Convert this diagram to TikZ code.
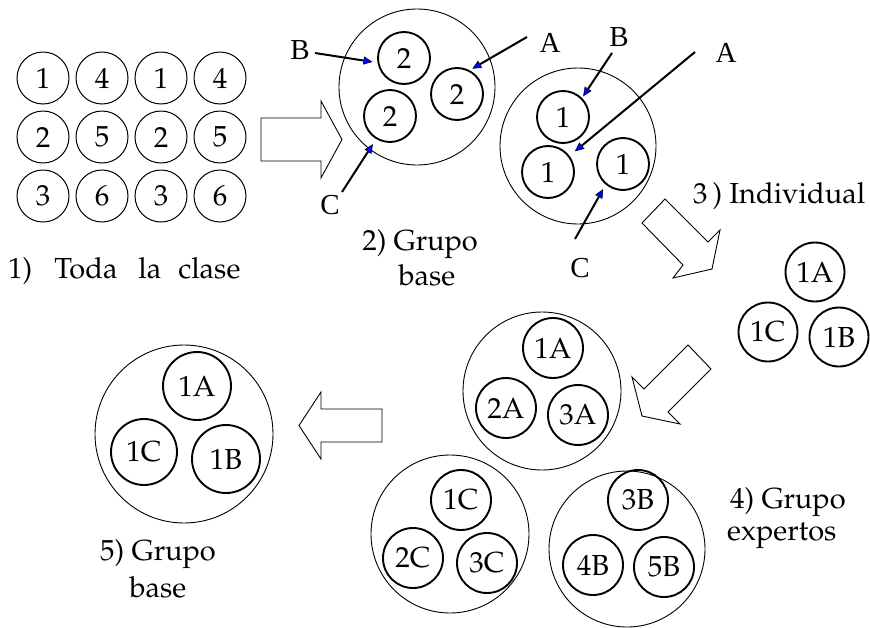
\documentclass[tikz,border=0pt]{standalone}
\usepackage[T1]{fontenc}
\usepackage{fontspec}
\newfontfamily\labelfont{Liberation Serif}
\newcommand\palfont{\fontencoding{T1}\fontfamily{ppl}\selectfont}
\usetikzlibrary{arrows.meta}

\begin{document}
\begin{tikzpicture}[x=1pt,y=-1pt,
  every node/.style={font=\palfont\fontsize{29}{33}\selectfont},
  seat/.style={circle,draw,line width=1pt,inner sep=0pt,minimum size=52pt},
  member/.style={circle,draw,line width=1.9pt,inner sep=0pt,minimum size=#1},
  member/.default=52pt,
  team/.style={circle,draw,line width=0.9pt,inner sep=0pt,minimum size=#1},
  team/.default=156pt,
  lbl/.style={font=\labelfont\fontsize{29}{33}\selectfont,inner sep=1pt},
  caption/.style={anchor=base,inner sep=0pt},
  pointer/.style={line width=2pt,
    -{Triangle[length=9pt,width=8pt,fill=blue,line width=0.5pt]}},
  bigarrow/.style={draw,line width=0.9pt,line join=miter,fill=white}
]
\useasboundingbox (0,0) rectangle (870,627);

% 1) the whole class: a 4x3 grid of numbered seats
\foreach \col/\x/\a/\b/\c in {1/43/1/2/3, 2/102/4/5/6, 3/161/1/2/3, 4/220/4/5/6}{
  \node[seat] (s\col a) at (\x,78)  {\a};
  \node[seat] (s\col b) at (\x,137) {\b};
  \node[seat] (s\col c) at (\x,196) {\c};
}
\node[anchor=base west,inner sep=0pt] (cap1) at (8,278)
  {1)\hspace{22pt}Toda\hspace{21pt}la\hspace{17pt}clase};

% arrow into the base groups
\draw[bigarrow] (261,118) -- (321,118) -- (321,101) -- (342,139.5)
  -- (321,178) -- (321,161) -- (261,161) -- cycle;

% 2) base group of number 2
\node[team] (g2) at (417,87) {};
\node[member] (g2b) at (404,58) {2};
\node[member] (g2a) at (457,94) {2};
\node[member] (g2c) at (390,116) {2};
\node[lbl] (B1) at (300,50) {B};
\node[lbl] (A1) at (550,43) {A};
\node[lbl] (C1) at (330,205) {C};
\coordinate (sB1) at (315,53);
\coordinate (sA1) at (527,37);
\coordinate (sC1) at (342,192);
\draw[pointer,shorten >=5pt] (sB1) -- (g2b.190);
\draw[pointer,shorten >=3pt] (sA1) -- (g2a.62);
\draw[pointer,shorten >=6pt] (sC1) -- (g2c.239);
\node[caption] (cap2a) at (420,250) {2) Grupo};
\node[caption] (cap2b) at (427,285) {base};

% base group of number 1
\node[team] (g1) at (578,146) {};
\node[member] (g1b) at (563,117) {1};
\node[member] (g1a) at (548,172) {1};
\node[member] (g1c) at (623,164) {1};
\node[lbl] (B2) at (619,37) {B};
\node[lbl] (A2) at (726,53) {A};
\node[lbl] (C2) at (580,268) {C};
\coordinate (sB2) at (612,53);
\coordinate (sA2) at (695,52);
\coordinate (sC2) at (575,239);
\draw[pointer,shorten >=2pt] (sB2) -- (g1b.45);
\draw[pointer,shorten >=7pt] (sA2) -- (g1a.37);
\draw[pointer,shorten >=5pt] (sC2) -- (g1c.230);

% 3) individual work
\node[anchor=base west,inner sep=0pt] (cap3) at (693,203) {3\,) Individual};
\draw[bigarrow] (665,199) -- (708,242) -- (720,230) -- (712,269)
  -- (673,278) -- (683,265) -- (642,223) -- cycle;
\node[member=59pt] (i1A) at (815,272) {1A};
\node[member=59pt] (i1C) at (768,332) {1C};
\node[member=59pt] (i1B) at (839,337) {1B};

% arrow into the expert groups
\draw[bigarrow] (688,345) -- (711,369) -- (668,412) -- (680,424)
  -- (642,416) -- (632,377) -- (644,389) -- cycle;

% 4) expert groups
\node[team=158pt] (eA) at (542,391) {};
\node[member=60pt] (eA1) at (553,348) {1A};
\node[member=60pt] (eA2) at (506,408) {2A};
\node[member=60pt] (eA3) at (578,415) {3A};

\node[team=158pt] (eC) at (450,534) {};
\node[member=60pt] (eC1) at (461,500) {1C};
\node[member=60pt] (eC2) at (413,558) {2C};
\node[member=60pt] (eC3) at (487,563) {3C};

\node[team=156pt] (eB) at (627,549) {};
\node[member=60pt] (eB3) at (638,500) {3B};
\node[member=60pt] (eB4) at (593,565) {4B};
\node[member=60pt] (eB5) at (664,567) {5B};

\node[anchor=base west,inner sep=0pt] (cap4a) at (730,508) {4) Grupo};
\node[anchor=base west,inner sep=0pt] (cap4b) at (727,540) {expertos};

% back to the base group
\draw[bigarrow] (382,409) -- (321,409) -- (321,392) -- (299,425.5)
  -- (321,459) -- (321,442) -- (382,442) -- cycle;

% 5) base group again
\node[team=178pt] (b5) at (184,434) {};
\node[member=68pt] (b5A) at (197,386) {1A};
\node[member=66pt] (b5C) at (144,452) {1C};
\node[member=68pt] (b5B) at (226,459) {1B};
\node[caption] (cap5a) at (158,560) {5) Grupo};
\node[caption] (cap5b) at (158,597) {base};
\end{tikzpicture}
\end{document}
